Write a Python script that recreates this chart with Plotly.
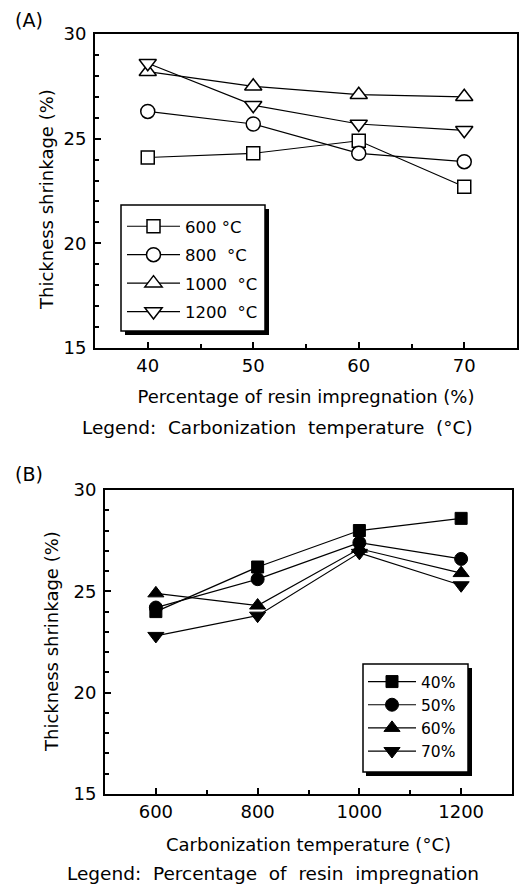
import plotly.graph_objects as go

W, H = 520, 889

# ---------------- Data ----------------
# Panel A: x = percentage of resin impregnation, series = carbonization temperature
resin_pct = [40, 50, 60, 70]
a_600 = [24.1, 24.3, 24.9, 22.7]
a_800 = [26.3, 25.7, 24.3, 23.9]
a_1000 = [28.2, 27.5, 27.1, 27.0]
a_1200 = [28.6, 26.6, 25.7, 25.4]
a_names = ["600 °C", "800  °C", "1000  °C", "1200  °C"]

# Panel B: x = carbonization temperature, series = percentage of resin impregnation
carb_temp = [600, 800, 1000, 1200]
b_40 = [24.0, 26.2, 28.0, 28.6]
b_50 = [24.2, 25.6, 27.4, 26.6]
b_60 = [24.9, 24.3, 27.1, 25.9]
b_70 = [22.8, 23.8, 26.9, 25.3]
b_names = ["40%", "50%", "60%", "70%"]

x_ticks_a = [40, 50, 60, 70]
x_ticks_b = [600, 800, 1000, 1200]
y_ticks = [15, 20, 25, 30]

FONT = "DejaVu Sans"
FS = 18


def px(x):
    return x / W


def py(y):
    return 1 - y / H


fig = go.Figure()

symbols = ["square", "circle", "triangle-up", "triangle-down"]
sizes_a = [13, 14, 15, 15]
for ys, name, sym, sz in zip([a_600, a_800, a_1000, a_1200], a_names, symbols, sizes_a):
    fig.add_trace(go.Scatter(
        x=resin_pct, y=ys, name=name, mode="lines+markers",
        line=dict(color="black", width=1.2),
        marker=dict(symbol=sym, size=sz, color="white",
                    line=dict(color="black", width=1.5)),
        xaxis="x", yaxis="y", legend="legend", legendgroup=name,
    ))

sizes_b = [12, 13, 14, 14]
for ys, name, sym, sz in zip([b_40, b_50, b_60, b_70], b_names, symbols, sizes_b):
    fig.add_trace(go.Scatter(
        x=carb_temp, y=ys, name=name, mode="lines+markers",
        line=dict(color="black", width=1.2),
        marker=dict(symbol=sym, size=sz, color="black",
                    line=dict(color="black", width=1)),
        xaxis="x2", yaxis="y2", legend="legend2", legendgroup=name,
    ))

axis_common = dict(
    showline=True, linecolor="black", linewidth=2, mirror=True,
    ticks="inside", ticklen=6, tickwidth=1.5, tickcolor="black",
    showgrid=False, zeroline=False, automargin=False,
    tickfont=dict(family=FONT, size=FS, color="black"),
)

fig.update_layout(
    template="none",
    width=W, height=H,
    margin=dict(l=0, r=0, t=0, b=0),
    paper_bgcolor="white", plot_bgcolor="white",
    font=dict(family=FONT, size=FS, color="black"),
    showlegend=True,
    xaxis=dict(
        domain=[px(95), px(517)], anchor="y", range=[35, 75],
        tickvals=x_ticks_a,
        minor=dict(dtick=5, tick0=0, ticks="inside", ticklen=4, tickcolor="black"),
        title=dict(text="Percentage of resin impregnation (%)",
                   font=dict(family=FONT, size=FS), standoff=16),
        **axis_common,
    ),
    yaxis=dict(
        domain=[py(348), py(34)], anchor="x", range=[15, 30],
        tickvals=y_ticks, ticklabelstandoff=3,
        minor=dict(dtick=1, tick0=0, ticks="inside", ticklen=4, tickcolor="black"),
        **axis_common,
    ),
    xaxis2=dict(
        domain=[px(105), px(512)], anchor="y2", range=[500, 1300],
        tickvals=x_ticks_b,
        minor=dict(dtick=100, tick0=0, ticks="inside", ticklen=4, tickcolor="black"),
        title=dict(text="Carbonization temperature (°C)",
                   font=dict(family=FONT, size=FS), standoff=18),
        **axis_common,
    ),
    yaxis2=dict(
        domain=[py(794), py(490)], anchor="x2", range=[15, 30],
        tickvals=y_ticks, ticklabelstandoff=3,
        minor=dict(dtick=1, tick0=0, ticks="inside", ticklen=4, tickcolor="black"),
        **axis_common,
    ),
    legend=dict(
        x=px(122), y=py(209), xanchor="left", yanchor="top",
        bgcolor="rgba(0,0,0,0)", borderwidth=0,
        font=dict(family=FONT, size=16.5, color="black"),
        itemwidth=53, tracegroupgap=4,
    ),
    legend2=dict(
        x=px(363), y=py(665), xanchor="left", yanchor="top",
        bgcolor="rgba(0,0,0,0)", borderwidth=0,
        font=dict(family=FONT, size=15.5, color="black"),
        itemwidth=48, tracegroupgap=0,
    ),
)

# legend frames with drop shadows
fig.add_shape(type="rect", xref="paper", yref="paper",
              x0=px(125), x1=px(269), y0=py(335), y1=py(209),
              fillcolor="black", line=dict(width=0), layer="above")
fig.add_shape(type="rect", xref="paper", yref="paper",
              x0=px(121), x1=px(265), y0=py(331), y1=py(205),
              fillcolor="white", line=dict(color="black", width=1.5), layer="above")
fig.add_shape(type="rect", xref="paper", yref="paper",
              x0=px(366), x1=px(472), y0=py(776), y1=py(668),
              fillcolor="black", line=dict(width=0), layer="above")
fig.add_shape(type="rect", xref="paper", yref="paper",
              x0=px(363), x1=px(468), y0=py(772), y1=py(664),
              fillcolor="white", line=dict(color="black", width=1.5), layer="above")

for txt, x, y in [("(A)", 13, 20), ("(B)", 13, 474)]:
    fig.add_annotation(text=txt, x=px(x), y=py(y), xref="paper", yref="paper",
                       xanchor="left", yanchor="middle", showarrow=False,
                       font=dict(family=FONT, size=19, color="black"))

for y in [200, 642]:
    x = 46 if y < 400 else 51
    fig.add_annotation(text="Thickness shrinkage (%)", x=px(x), y=py(y),
                       xref="paper", yref="paper", textangle=-90,
                       xanchor="center", yanchor="middle", showarrow=False,
                       font=dict(family=FONT, size=FS, color="black"))

fig.add_annotation(text="Legend:  Carbonization  temperature  (°C)",
                   x=px(277), y=py(427), xref="paper", yref="paper",
                   xanchor="center", yanchor="middle", showarrow=False,
                   font=dict(family=FONT, size=18.5, color="black"))
fig.add_annotation(text="Legend:  Percentage  of  resin  impregnation",
                   x=px(273), y=py(873), xref="paper", yref="paper",
                   xanchor="center", yanchor="middle", showarrow=False,
                   font=dict(family=FONT, size=18.5, color="black"))

fig.write_html("out.html", config={"displayModeBar": False},
               post_script="document.body.style.margin='0';")
